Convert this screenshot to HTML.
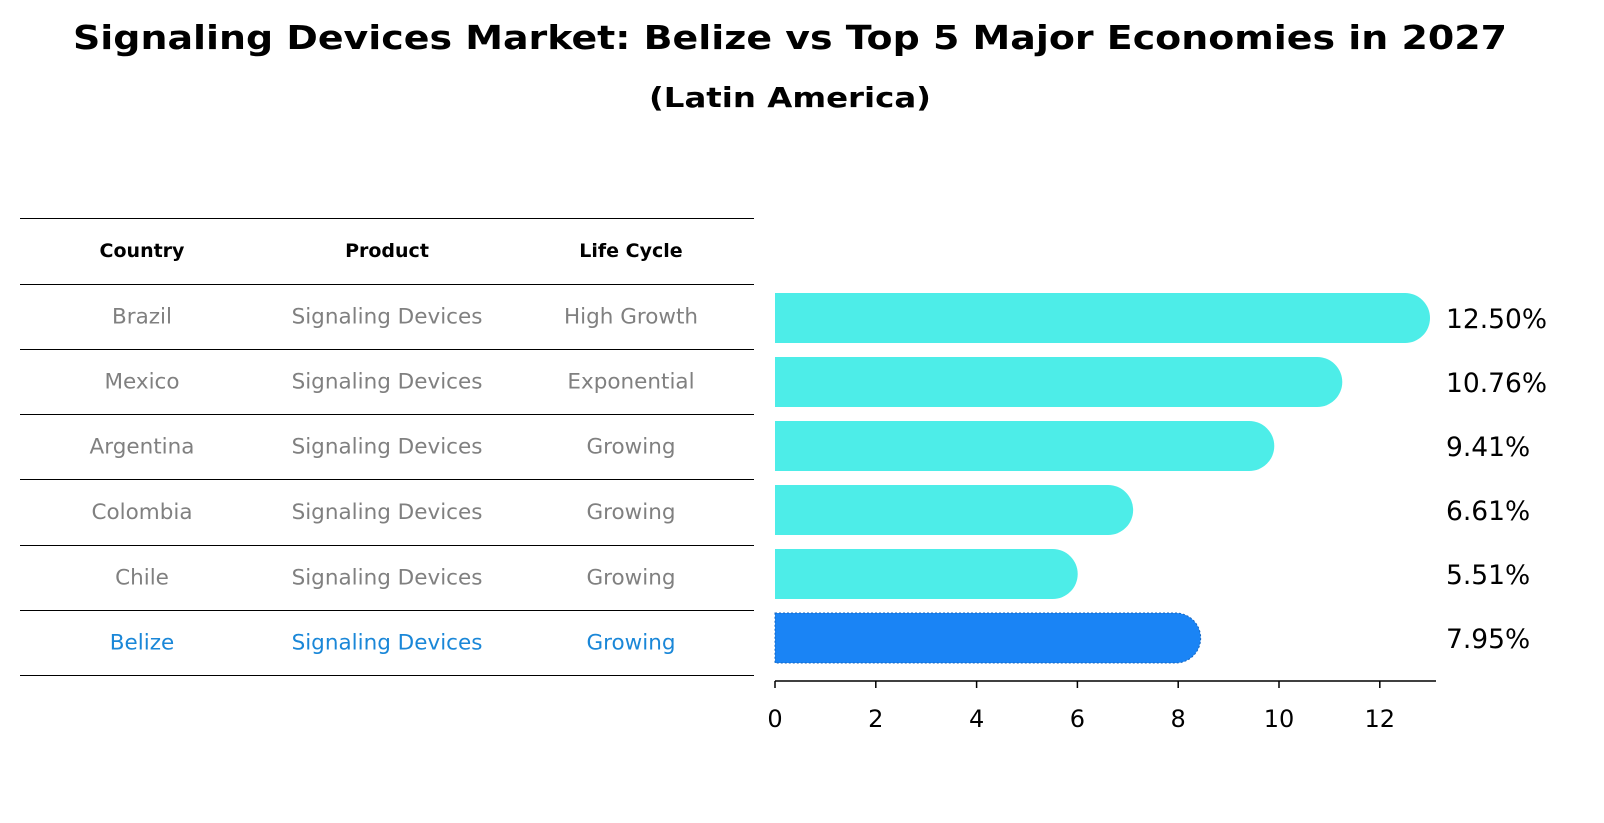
<!DOCTYPE html>
<html><head><meta charset="utf-8"><style>
body{margin:0;background:#fff;font-family:"DejaVu Sans","Liberation Sans",sans-serif;}
svg{display:block}
</style></head><body>
<svg width="1604" height="823" xmlns="http://www.w3.org/2000/svg" id="chart">
<text x="790" y="49" text-anchor="middle" font-size="33" font-weight="bold" textLength="1434" lengthAdjust="spacingAndGlyphs">Signaling Devices Market: Belize vs Top 5 Major Economies in 2027</text>
<text x="790" y="107" text-anchor="middle" font-size="28" font-weight="bold" textLength="282" lengthAdjust="spacingAndGlyphs">(Latin America)</text>
<g id="table"></g>
<g id="bars"></g>
<g id="axis"></g>
</svg>
<script>
const countries=["Brazil","Mexico","Argentina","Colombia","Chile","Belize"];
const products=["Signaling Devices","Signaling Devices","Signaling Devices","Signaling Devices","Signaling Devices","Signaling Devices"];
const lifecycles=["High Growth","Exponential","Growing","Growing","Growing","Growing"];
const values=[12.50,10.76,9.41,6.61,5.51,7.95];
const ticks=[0,2,4,6,8,10,12];
const NS="http://www.w3.org/2000/svg";
function mk(tag,attrs,parent,txt){const e=document.createElementNS(NS,tag);for(const k in attrs)e.setAttribute(k,attrs[k]);if(txt!==undefined)e.textContent=txt;parent.appendChild(e);return e;}
const xs=v=>775+v*50.4;
const rowY=i=>318+i*64;
const table=document.getElementById('table');
const lineYs=[218,284,349,414,479,545,610,675];
lineYs.forEach(y=>{const l=mk('line',{x1:20,x2:754,y1:y+0.5,y2:y+0.5,stroke:'#000','stroke-width':1},table);

});
const cx=[142,387,631];
["Country","Product","Life Cycle"].forEach((h,j)=>{const t=mk('text',{x:cx[j],y:257,'text-anchor':'middle','font-size':19,'font-weight':'bold'},table,h);

});
countries.forEach((c,i)=>{const y=(lineYs[i+1]+lineYs[i+2])/2+7;const col=c==="Belize"?'#1a87d8':'#808080';
[c,products[i],lifecycles[i]].forEach((s,j)=>{const t=mk('text',{x:cx[j],y:y,'text-anchor':'middle','font-size':21.5,fill:col},table,s);

});});
const bars=document.getElementById('bars');
values.forEach((v,i)=>{const y0=rowY(i)-25,y1=rowY(i)+25,x0=xs(0),x1=xs(v);
const bel=countries[i]==="Belize";
const col=bel?'#1a84f5':'#4dede8';
const attrs={d:`M${x0},${y0} L${x1},${y0} A25,25 0 0 1 ${x1},${y1} L${x0},${y1} Z`,fill:col};
if(bel){attrs.stroke='#1565c0';attrs['stroke-width']=1;attrs['stroke-dasharray']='2,2';}
const p=mk('path',attrs,bars);


const t=mk('text',{x:1446,y:rowY(i)+10,'font-size':26.5},bars,v.toFixed(2)+'%');

});
const axis=document.getElementById('axis');
const al=mk('line',{x1:775,x2:1436,y1:681,y2:681,stroke:'#000','stroke-width':1.5},axis);


ticks.forEach(v=>{const tl=mk('line',{x1:xs(v),x2:xs(v),y1:681,y2:688,stroke:'#000','stroke-width':1.5},axis);


const t=mk('text',{x:xs(v),y:727,'text-anchor':'middle','font-size':24},axis,String(v));

});
</script>
</body></html>
